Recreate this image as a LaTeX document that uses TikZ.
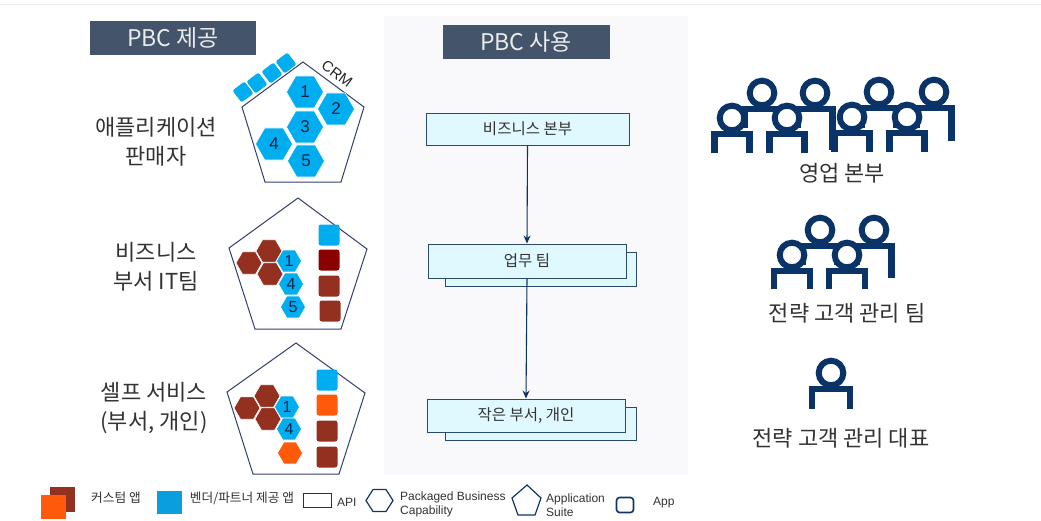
\documentclass[tikz,border=0pt]{standalone}
\usepackage{fontspec}
\setmainfont{Noto Sans CJK KR}
\newfontfamily\latinf{Liberation Sans}
\usetikzlibrary{shapes.geometric,arrows.meta}
\definecolor{navy}{HTML}{0A3468}
\definecolor{titlebg}{HTML}{44546A}
\definecolor{cyanbox}{HTML}{E0F8FF}
\definecolor{boxline}{HTML}{2A4A6B}
\definecolor{pentline}{HTML}{33406E}
\definecolor{vblue}{HTML}{00ADEF}
\definecolor{legblue}{HTML}{0A9EDE}
\definecolor{brownc}{HTML}{943020}
\definecolor{darkredc}{HTML}{8B0000}
\definecolor{orangec}{HTML}{FF5A0A}
\definecolor{txt}{HTML}{333333}
\definecolor{panelc}{HTML}{F9F9FB}
\tikzset{
  x=1pt,y=-1pt,
  hexbase/.style={regular polygon,regular polygon sides=6,inner sep=0pt,outer sep=0pt,draw=white,line width=0.6pt,text=navy!70!black},
  bighex/.style={hexbase,fill=vblue,minimum size=37pt,font=\latinf\fontsize{17}{17}\selectfont},
  bluehex/.style={hexbase,fill=vblue,minimum size=25pt,font=\latinf\fontsize{16}{16}\selectfont},
  brownhex/.style={hexbase,fill=brownc,minimum size=26pt},
  orangehex/.style={hexbase,fill=orangec,minimum size=25pt},
  sq/.style={rectangle,rounded corners=2.5pt,minimum size=21pt,inner sep=0pt,draw=none},
  smallsq/.style={rectangle,rounded corners=2pt,minimum size=15pt,inner sep=0pt,fill=vblue,rotate=37},
  pent/.style={draw=pentline,line width=1pt,line join=miter},
  titlebox/.style={rectangle,fill=titlebg,text=white!92!black,inner sep=0pt,font=\fontsize{23}{23}\selectfont},
  usebox/.style={rectangle,draw=boxline,fill=cyanbox,line width=1pt,inner sep=0pt,text=txt,font=\fontsize{15.5}{15.5}\selectfont},
  conn/.style={draw=navy,line width=1.1pt,-{Stealth[length=8pt,width=7pt]}},
  biglabel/.style={text=txt,align=center,inner sep=0pt,font=\fontsize{22}{28.5}\selectfont},
  leglabel/.style={text=txt,inner sep=0pt,font=\fontsize{12.7}{13}\selectfont},
  legen/.style={text=txt,inner sep=0pt,align=left,font=\latinf\fontsize{12}{14}\selectfont},
  legshape/.style={draw=navy!85!pentline,line width=1.6pt,fill=white},
}
% hx hy half-width left-leg-end right-leg-end
\newcommand{\personicon}[5]{%
  \draw[navy,line width=6.5pt,line join=miter] (#1-#3,#4) -- (#1-#3,#2+16) -- (#1+#3,#2+16) -- (#1+#3,#5);
  \draw[navy,line width=6pt,fill=white] (#1,#2) circle[radius=12.3];
}
\begin{document}
\begin{tikzpicture}
\useasboundingbox (0,0) rectangle (1041,520);
\fill[white] (0,0) rectangle (1041,520);
\fill[black!7] (0,3.5) rectangle (1041,4.5);
\fill[panelc] (384,16) rectangle (688,475);

% titles
\node[titlebox,minimum width=166pt,minimum height=34pt] (t1) at (173,38) {PBC 제공};
\node[titlebox,minimum width=167pt,minimum height=34pt] (t2) at (526,42) {PBC 사용};

% suite 1
\draw[pent] (303,62) -- (364,107) -- (341,182) -- (265,182) -- (242,107) -- cycle;
\node[smallsq] (c1) at (243,92) {};
\node[smallsq] (c2) at (257,83) {};
\node[smallsq] (c3) at (272,73) {};
\node[smallsq] (c4) at (286,63) {};
\node[rotate=-37,inner sep=0pt,text=black!85,font=\latinf\fontsize{15}{15}\selectfont] (crm) at (337,74) {CRM};
\node[bighex] (a1) at (305,92) {1};
\node[bighex] (a2) at (336,109) {2};
\node[bighex] (a3) at (305,127) {3};
\node[bighex] (a4) at (274,144) {4};
\node[bighex] (a5) at (306,161) {5};

% suite 2
\draw[pent] (298,198) -- (367,249) -- (341,329) -- (255,329) -- (229,248) -- cycle;
\node[brownhex] (b1) at (269,251) {};
\node[brownhex] (b2) at (249,263) {};
\node[brownhex] (b3) at (270,274) {};
\node[bluehex] (b4) at (289,261) {1};
\node[bluehex] (b5) at (291,284) {4};
\node[bluehex] (b6) at (293,307) {5};
\node[sq,fill=vblue] (bs1) at (329,235) {};
\node[sq,fill=darkredc] (bs2) at (329,260) {};
\node[sq,fill=brownc] (bs3) at (329,286) {};
\node[sq,fill=brownc] (bs4) at (330,311) {};

% suite 3
\draw[pent] (296,343) -- (365,393) -- (339,474) -- (253,474) -- (227,392) -- cycle;
\node[brownhex] (d1) at (267,396) {};
\node[brownhex] (d2) at (247,408) {};
\node[brownhex] (d3) at (268,419) {};
\node[bluehex] (d4) at (287,407) {1};
\node[bluehex] (d5) at (289,429) {4};
\node[orangehex] (d6) at (290,453) {};
\node[sq,fill=vblue] (ds1) at (327,380) {};
\node[sq,fill=orangec] (ds2) at (327,405) {};
\node[sq,fill=brownc] (ds3) at (327,431) {};
\node[sq,fill=brownc] (ds4) at (327,457) {};

% left labels
\node[biglabel] (l1) at (156,142) {애플리케이션\\판매자};
\node[biglabel] (l2) at (156,267) {비즈니스\\부서 IT팀};
\node[biglabel] (l3) at (154,408) {셀프 서비스\\(부서, 개인)};

% use boxes
\node[usebox,minimum width=203pt,minimum height=32pt] (u1) at (527.5,129) {비즈니스 본부};
\node[usebox,minimum width=191pt,minimum height=34pt] (u2b) at (540.5,269) {};
\node[usebox,minimum width=198pt,minimum height=34pt] (u2) at (527,261) {업무 팀};
\node[usebox,minimum width=191pt,minimum height=33pt] (u3b) at (540.5,423.5) {};
\node[usebox,minimum width=198pt,minimum height=33pt] (u3) at (526,415.5) {작은 부서, 개인};
\draw[conn] (u1.south) -- (u2.north);
\draw[conn] (u2.south) -- (u3.north);

% people group 1
\personicon{762}{93}{17.5}{128}{128}
\personicon{815}{93}{17.5}{128}{150}
\personicon{879}{92}{17.5}{128}{128}
\personicon{934}{92}{17.5}{128}{141}
\personicon{732}{118}{17.5}{153}{153}
\personicon{787}{118}{17.5}{153}{153}
\personicon{852}{117}{17.5}{152}{152}
\personicon{907}{117}{17.5}{152}{152}
\node[biglabel] (r1) at (842,173) {영업 본부};

% people group 2
\personicon{820}{230}{17.5}{265}{265}
\personicon{874}{230}{17.5}{265}{278}
\personicon{792}{255}{18}{289}{289}
\personicon{847}{255}{18}{289}{289}
\node[biglabel] (r2) at (847,313) {전략 고객 관리 팀};

% single person
\personicon{831}{373}{19}{409}{409}
\node[biglabel] (r3) at (841,438) {전략 고객 관리 대표};

% legend
\node[rectangle,fill=brownc,minimum width=25pt,minimum height=25pt,inner sep=0pt] (k1) at (62.5,499.5) {};
\node[rectangle,fill=orangec,minimum width=25pt,minimum height=24pt,inner sep=0pt] (k2) at (53.5,507) {};
\node[leglabel] (k1t) at (116,498) {커스텀 앱};
\node[rectangle,fill=legblue,minimum width=25pt,minimum height=23pt,inner sep=0pt] (k3) at (169.5,502.5) {};
\node[leglabel] (k3t) at (242,498) {벤더/파트너 제공 앱};
\node[rectangle,legshape,minimum width=28pt,minimum height=14pt,inner sep=0pt] (k4) at (317.5,500.5) {};
\node[legen,anchor=west] (k4t) at (337,502) {API};
\draw[legshape,line width=1.2pt] (366,500.5) -- (373,489.5) -- (386,489.5) -- (393,500.5) -- (386,511.5) -- (373,511.5) -- cycle;
\node[legen,anchor=west] (k5t) at (400,504) {Packaged Business\\Capability};
\draw[legshape,line width=1.2pt] (527,485) -- (541,498) -- (535,515) -- (518,515) -- (512,498) -- cycle;
\node[legen,anchor=west] (k6t) at (546,505) {Application\\Suite};
\node[rectangle,legshape,rounded corners=3pt,minimum width=17pt,minimum height=15pt,inner sep=0pt] (k7) at (625,505) {};
\node[legen,anchor=west] (k7t) at (653,503) {App};
\end{tikzpicture}
\end{document}
